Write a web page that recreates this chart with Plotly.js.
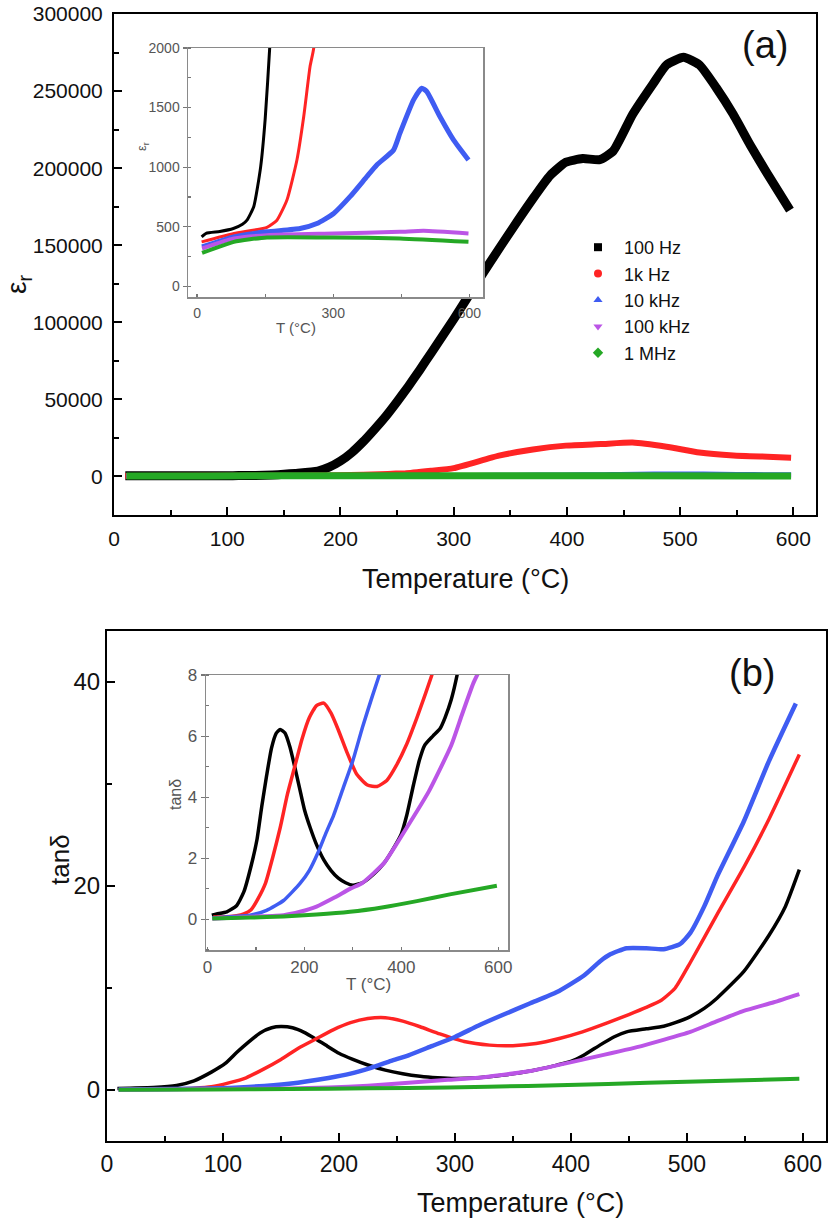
<!DOCTYPE html>
<html>
<head>
<meta charset="utf-8">
<script src="https://cdn.plot.ly/plotly-3.0.1.min.js"></script>
<style>
html,body{margin:0;padding:0;background:#fff;}
#chart{width:829px;height:1221px;}
</style>
</head>
<body>
<div id="chart"></div>
<script>
// ---------- Data: (a) dielectric constant ----------
const seriesNames = ["100 Hz", "1k Hz", "10 kHz", "100 kHz", "1 MHz"];

const epsT_100Hz = [10,20,50,80,100,110,125,140,150,160,180,190,200,210,220,230,240,250,260,270,280,290,300,326,370,385,399,414,429,441,458,476,488,503,517,532,547,562,576,597];
const eps_100Hz  = [415,445,460,485,520,555,670,1000,1400,2000,3500,6000,10000,15500,22500,30500,39000,48500,58500,69000,80000,91000,102000,132000,180200,195100,203800,206200,205500,211200,234800,254600,267000,271900,267000,252100,234800,214900,197600,172800];

const epsT_1kHz = [10,81,154,176,198,220,235,249,257,280,300,340,370,399,430,458,488,517,547,577,598];
const eps_1kHz  = [373,443,494,555,724,1060,1425,1846,2000,3700,5400,13500,17500,20000,21000,22000,19300,15500,13600,12800,12200];

const epsT_10kHz = [11,81,154,227,264,301,337,374,396,433,447,477,495,506,535,565,598];
const eps_10kHz  = [331,415,457,485,527,611,752,920,1018,1144,1285,1565,1663,1635,1425,1229,1060];

const epsT_100kHz = [11,81,154,301,447,499,598];
const eps_100kHz  = [317,401,429,443,457,466,443];

const epsT_1MHz = [11,81,154,301,447,598];
const eps_1MHz  = [280,373,410,410,401,373];

// ---------- Data: (b) loss tangent ----------
const tanT_100Hz = [9,19,40,60,75,90,102,112,122,132,142,150,160,170,180,190,200,212,225,240,255,270,285,300,320,342,365,388,400,411,425,437,448,465,480,490,503,515,526,549,571,585,597];
const tan_100Hz  = [0.14,0.18,0.25,0.45,0.9,1.75,2.6,3.7,4.7,5.6,6.1,6.22,6.1,5.65,5.0,4.3,3.6,3.0,2.45,1.95,1.6,1.35,1.2,1.12,1.2,1.47,1.86,2.44,2.8,3.4,4.4,5.2,5.7,6.0,6.25,6.6,7.2,8.0,9.0,11.6,15.2,18.0,21.6];

const tanT_1kHz = [12,40,60,75,90,105,120,135,150,165,180,195,210,225,240,255,270,287,308,330,350,370,390,410,432,450,465,478,490,503,526,549,571,597];
const tan_1kHz  = [0.08,0.09,0.12,0.18,0.32,0.7,1.2,2.05,3.0,4.1,5.0,5.9,6.6,7.0,7.08,6.75,6.2,5.5,4.75,4.4,4.35,4.55,5.05,5.7,6.6,7.4,8.1,8.8,10.0,12.5,17.2,21.8,26.6,32.9];

const tanT_10kHz = [10,54,88,122,157,191,210,227,245,260,280,300,320,340,365,388,411,425,434,448,465,480,494,503,515,526,549,571,594];
const tan_10kHz  = [0.05,0.1,0.14,0.3,0.62,1.18,1.6,2.15,2.85,3.4,4.3,5.2,6.3,7.3,8.5,9.6,11.2,12.6,13.3,13.9,13.9,13.8,14.3,15.4,18.0,20.9,26.3,32.3,37.9];

const tanT_100kHz = [10,88,157,191,225,260,294,320,365,411,457,503,525,549,575,597];
const tan_100kHz  = [0.02,0.09,0.14,0.25,0.42,0.7,1.0,1.2,1.86,3.0,4.2,5.7,6.7,7.75,8.6,9.4];

const tanT_1MHz = [10,88,157,225,294,363,432,500,597];
const tan_1MHz  = [0.03,0.06,0.1,0.16,0.25,0.4,0.6,0.82,1.1];

// ---------- Tick labels ----------
const epsTicks = [0,50000,100000,150000,200000,250000,300000];
const tempTicks = [0,100,200,300,400,500,600];
const tanTicks = [0,20,40];
const insetEpsTicks = [0,500,1000,1500,2000];
const insetATempTicks = [0,300,600];
const insetTanTicks = [0,2,4,6,8];
const insetBTempTicks = [0,200,400,600];

// ---------- Styles ----------
const colors = ["#000000", "#ff2424", "#3f5cf2", "#bb55e6", "#25a825"];
const symbols = ["square", "circle", "triangle-up", "triangle-down", "diamond"];
const FONT = "Liberation Sans, Arial, sans-serif";

const epsT = [epsT_100Hz, epsT_1kHz, epsT_10kHz, epsT_100kHz, epsT_1MHz];
const epsV = [eps_100Hz, eps_1kHz, eps_10kHz, eps_100kHz, eps_1MHz];
const tanT = [tanT_100Hz, tanT_1kHz, tanT_10kHz, tanT_100kHz, tanT_1MHz];
const tanV = [tan_100Hz, tan_1kHz, tan_10kHz, tan_100kHz, tan_1MHz];

const wMainA = [9, 6, 5, 5, 7];
const wInsetA = [3, 3, 5, 4, 4];
const wMainB = [3.5, 3.5, 4.5, 4, 4];
const wInsetB = [3.5, 3.5, 3.5, 4, 4];

const traces = [];
[0,1,2,3,4].forEach(i => {
  traces.push({x: epsT[i], y: epsV[i], xaxis:'x', yaxis:'y', mode:'lines', line:{color:colors[i], width:wMainA[i], shape:'spline', smoothing:0.5}, showlegend:false, hoverinfo:'skip'});
});
[0,1,2,3,4].forEach(i => {
  traces.push({x: epsT[i], y: epsV[i], xaxis:'x2', yaxis:'y2', mode:'lines', line:{color:colors[i], width:wInsetA[i], shape:'spline', smoothing:0.5}, showlegend:false, hoverinfo:'skip'});
});
[0,1,2,3,4].forEach(i => {
  traces.push({x: tanT[i], y: tanV[i], xaxis:'x3', yaxis:'y3', mode:'lines', line:{color:colors[i], width:wMainB[i], shape:'spline', smoothing:0.5}, showlegend:false, hoverinfo:'skip'});
});
[0,1,2,3,4].forEach(i => {
  traces.push({x: tanT[i], y: tanV[i], xaxis:'x4', yaxis:'y4', mode:'lines', line:{color:colors[i], width:wInsetB[i], shape:'spline', smoothing:0.5}, showlegend:false, hoverinfo:'skip'});
});
[0,1,2,3,4].forEach(i => {
  traces.push({x:[null], y:[null], xaxis:'x', yaxis:'y', mode:'markers', name: seriesNames[i], marker:{color:colors[i], symbol:symbols[i], size:8}, showlegend:true});
});

const W = 829, H = 1221;
const px = v => v / W;
const py = v => 1 - v / H;

function mainAxis(domain, range, ticks, dtickMinor, fontSize, extra) {
  return Object.assign({
    domain: domain, range: range, tickvals: ticks, ticktext: ticks.map(String),
    showline: true, linecolor: '#000', linewidth: 2, mirror: true,
    ticks: 'inside', ticklen: 8, tickwidth: 2, tickcolor: '#000',
    minor: {dtick: dtickMinor, tick0: 0, ticks: 'inside', ticklen: 5, tickwidth: 2, tickcolor: '#000'},
    showgrid: false, zeroline: false, automargin: false,
    tickfont: {family: FONT, size: fontSize, color: '#111'}, fixedrange: true
  }, extra || {});
}
function insetAxis(domain, range, ticks, dtickMinor, fontSize, extra) {
  return Object.assign({
    domain: domain, range: range, tickvals: ticks, ticktext: ticks.map(String),
    showline: true, linecolor: '#8a8a8a', linewidth: 1.5, mirror: true,
    ticks: 'outside', ticklen: 4, tickwidth: 1.2, tickcolor: '#777',
    minor: {dtick: dtickMinor, tick0: 0, ticks: 'inside', ticklen: 3, tickwidth: 1.2, tickcolor: '#777'},
    showgrid: false, zeroline: false, automargin: false,
    tickfont: {family: FONT, size: fontSize, color: '#555'}, fixedrange: true
  }, extra || {});
}

function ann(text, x, y, size, color, angle) {
  return {text: text, x: px(x), y: py(y), xref:'paper', yref:'paper', xanchor:'center', yanchor:'middle',
          showarrow:false, textangle: angle || 0, font:{family:FONT, size:size, color:color}};
}

const layout = {
  width: W, height: H,
  margin: {l:0, r:0, t:0, b:0},
  paper_bgcolor: '#fff', plot_bgcolor: '#fff',
  font: {family: FONT},
  xaxis: mainAxis([px(114), px(816)], [0, 620], tempTicks, 50, 21, {anchor:'y', ticklabelstandoff: 4}),
  yaxis: mainAxis([py(515), py(14)], [-25000, 300000], epsTicks, 25000, 21, {anchor:'x', ticklabelstandoff: 5}),
  xaxis2: insetAxis([px(188), px(483)], [-20, 630], insetATempTicks, 150, 14, {anchor:'y2', ticks:'inside', ticklen:3, ticklabelstandoff: 3}),
  yaxis2: insetAxis([py(297), py(48)], [-90, 2000], insetEpsTicks, 250, 14, {anchor:'x2'}),
  xaxis3: mainAxis([px(107), px(826)], [0, 620], tempTicks, 50, 23, {anchor:'y3', ticklabelstandoff: 1}),
  yaxis3: mainAxis([py(1141), py(631)], [-5, 45], tanTicks, 10, 24, {anchor:'x3', ticklabelstandoff: 0}),
  xaxis4: insetAxis([px(206), px(508)], [-3, 620], insetBTempTicks, 100, 17, {anchor:'y4', ticks:'inside', ticklen:3, ticklabelstandoff: 1}),
  yaxis4: insetAxis([py(950), py(675)], [-1, 8], insetTanTicks, 1, 17, {anchor:'x4'}),
  legend: {
    x: px(572), y: py(229), xanchor: 'left', yanchor: 'top',
    bgcolor: 'rgba(0,0,0,0)', borderwidth: 0,
    font: {family: FONT, size: 18, color: '#111'},
    itemwidth: 42, tracegroupgap: 0
  },
  showlegend: true,
  annotations: [
    ann('(a)', 765, 45, 38, '#111'),
    ann('(b)', 752, 673, 38, '#111'),
    ann('Temperature (°C)', 465, 579, 27, '#111'),
    ann('Temperature (°C)', 520, 1203, 27, '#111'),
    ann('ε<sub>r</sub>', 18, 285, 28, '#111', -90),
    ann('tanδ', 60, 860, 26, '#111', -90),
    ann('ε<sub>r</sub>', 143, 147, 13, '#555', -90),
    ann('T (°C)', 296, 327, 15, '#555'),
    ann('tanδ', 175, 795, 16, '#555', -90),
    ann('T (°C)', 368, 984, 17, '#555')
  ]
};

Plotly.newPlot('chart', traces, layout, {displayModeBar:false, staticPlot:true});
</script>
</body>
</html>
